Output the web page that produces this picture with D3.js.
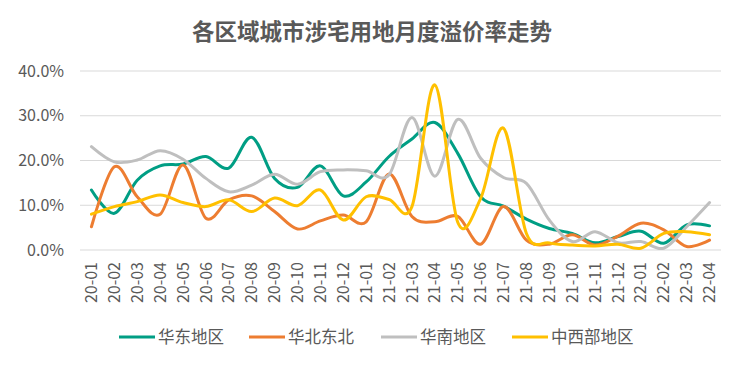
<!DOCTYPE html>
<html>
<head>
<meta charset="utf-8">
<script src="https://cdn.jsdelivr.net/npm/d3@7"></script>
<style>
  body { margin: 0; background: #fff; }
  text { font-family: "Noto Sans CJK SC", "Noto Sans", sans-serif; fill: #595959; }
</style>
</head>
<body>
<div id="chart"></div>
<script>
// Monthly premium rate (%) by region
const months = ["20-01","20-02","20-03","20-04","20-05","20-06","20-07","20-08","20-09","20-10","20-11","20-12",
                "21-01","21-02","21-03","21-04","21-05","21-06","21-07","21-08","21-09","21-10","21-11","21-12",
                "22-01","22-02","22-03","22-04"];
const seriesNames = ["华东地区", "华北东北", "华南地区", "中西部地区"];
const eastChina  = [13.4, 8.2, 15.6, 18.8, 19.2, 20.9, 18.3, 25.2, 16.0, 14.0, 18.8, 12.1,
                    15.2, 20.9, 24.8, 28.5, 21.6, 11.9, 9.8, 6.9, 4.8, 3.7, 1.6, 3.0, 4.2, 1.5, 5.6, 5.4];
const northChina = [5.2, 18.6, 11.9, 8.0, 19.0, 7.1, 11.2, 12.1, 8.6, 4.7, 6.5, 7.8,
                    6.3, 17.0, 7.5, 6.3, 7.5, 1.3, 9.7, 2.2, 1.3, 3.4, 1.1, 3.1, 6.0, 4.5, 0.8, 2.2];
const southChina = [23.1, 19.7, 20.1, 22.2, 20.3, 16.0, 13.0, 14.5, 16.9, 14.7, 17.5, 17.9,
                    17.7, 16.8, 29.6, 16.5, 29.2, 20.5, 16.2, 14.9, 6.7, 1.9, 4.1, 1.6, 1.9, 0.4, 5.2, 10.6];
const central    = [8.0, 9.7, 10.8, 12.3, 10.6, 9.7, 11.2, 8.6, 11.6, 9.9, 13.4, 6.7,
                    11.9, 11.3, 9.7, 36.9, 6.2, 11.5, 27.2, 3.7, 1.6, 1.1, 0.9, 1.3, 0.4, 3.7, 4.1, 3.4];
const yTicks = [0, 10, 20, 30, 40];
const colors = ["#009E84", "#ED7D31", "#BFBFBF", "#FFC000"];

const allSeries = [eastChina, northChina, southChina, central];

const width = 729, height = 366;
const svg = d3.select("#chart").append("svg")
    .attr("width", width)
    .attr("height", height);

// Title
svg.append("text")
    .attr("x", 372)
    .attr("y", 30)
    .attr("text-anchor", "middle")
    .attr("dominant-baseline", "central")
    .style("font-size", "22.5px")
    .style("font-weight", "bold")
    .text("各区域城市涉宅用地月度溢价率走势");

const x = d3.scaleBand().domain(months).range([80, 721]);
const y = d3.scaleLinear().domain([0, 40]).range([250, 71]);

// Gridlines
svg.append("g")
    .selectAll("line")
    .data(yTicks)
    .join("line")
        .attr("x1", 80).attr("x2", 721)
        .attr("y1", d => y(d)).attr("y2", d => y(d))
        .attr("stroke", "#D9D9D9")
        .attr("stroke-width", 1);

// Y axis labels
svg.append("g")
    .selectAll("text")
    .data(yTicks)
    .join("text")
        .attr("x", 64)
        .attr("y", d => y(d))
        .attr("dy", "0.35em")
        .attr("text-anchor", "end")
        .style("font-size", "16px")
        .text(d => d.toFixed(1) + "%");

// X axis labels (rotated)
svg.append("g")
    .selectAll("text")
    .data(months)
    .join("text")
        .attr("transform", d => `translate(${x(d) + x.bandwidth() / 2},262) rotate(-90)`)
        .attr("dy", "0.35em")
        .attr("text-anchor", "end")
        .style("font-size", "16px")
        .text(d => d);

// Lines
const line = d3.line()
    .x((d, i) => x(months[i]) + x.bandwidth() / 2)
    .y(d => y(d))
    .curve(d3.curveCardinal.tension(0));

svg.append("g")
    .selectAll("path")
    .data(allSeries)
    .join("path")
        .attr("d", d => line(d))
        .attr("fill", "none")
        .attr("stroke", (d, i) => colors[i])
        .attr("stroke-width", 3)
        .attr("stroke-linejoin", "round")
        .attr("stroke-linecap", "round");

// Legend
const legendX = [119, 249, 381, 512];
const legend = svg.append("g")
    .selectAll("g")
    .data(seriesNames)
    .join("g")
        .attr("transform", (d, i) => `translate(${legendX[i]},337)`);

legend.append("line")
    .attr("x1", 0).attr("x2", 36)
    .attr("stroke", (d, i) => colors[i])
    .attr("stroke-width", 3);

legend.append("text")
    .attr("x", 39)
    .attr("dy", "0.35em")
    .style("font-size", "16.5px")
    .text(d => d);
</script>
</body>
</html>
